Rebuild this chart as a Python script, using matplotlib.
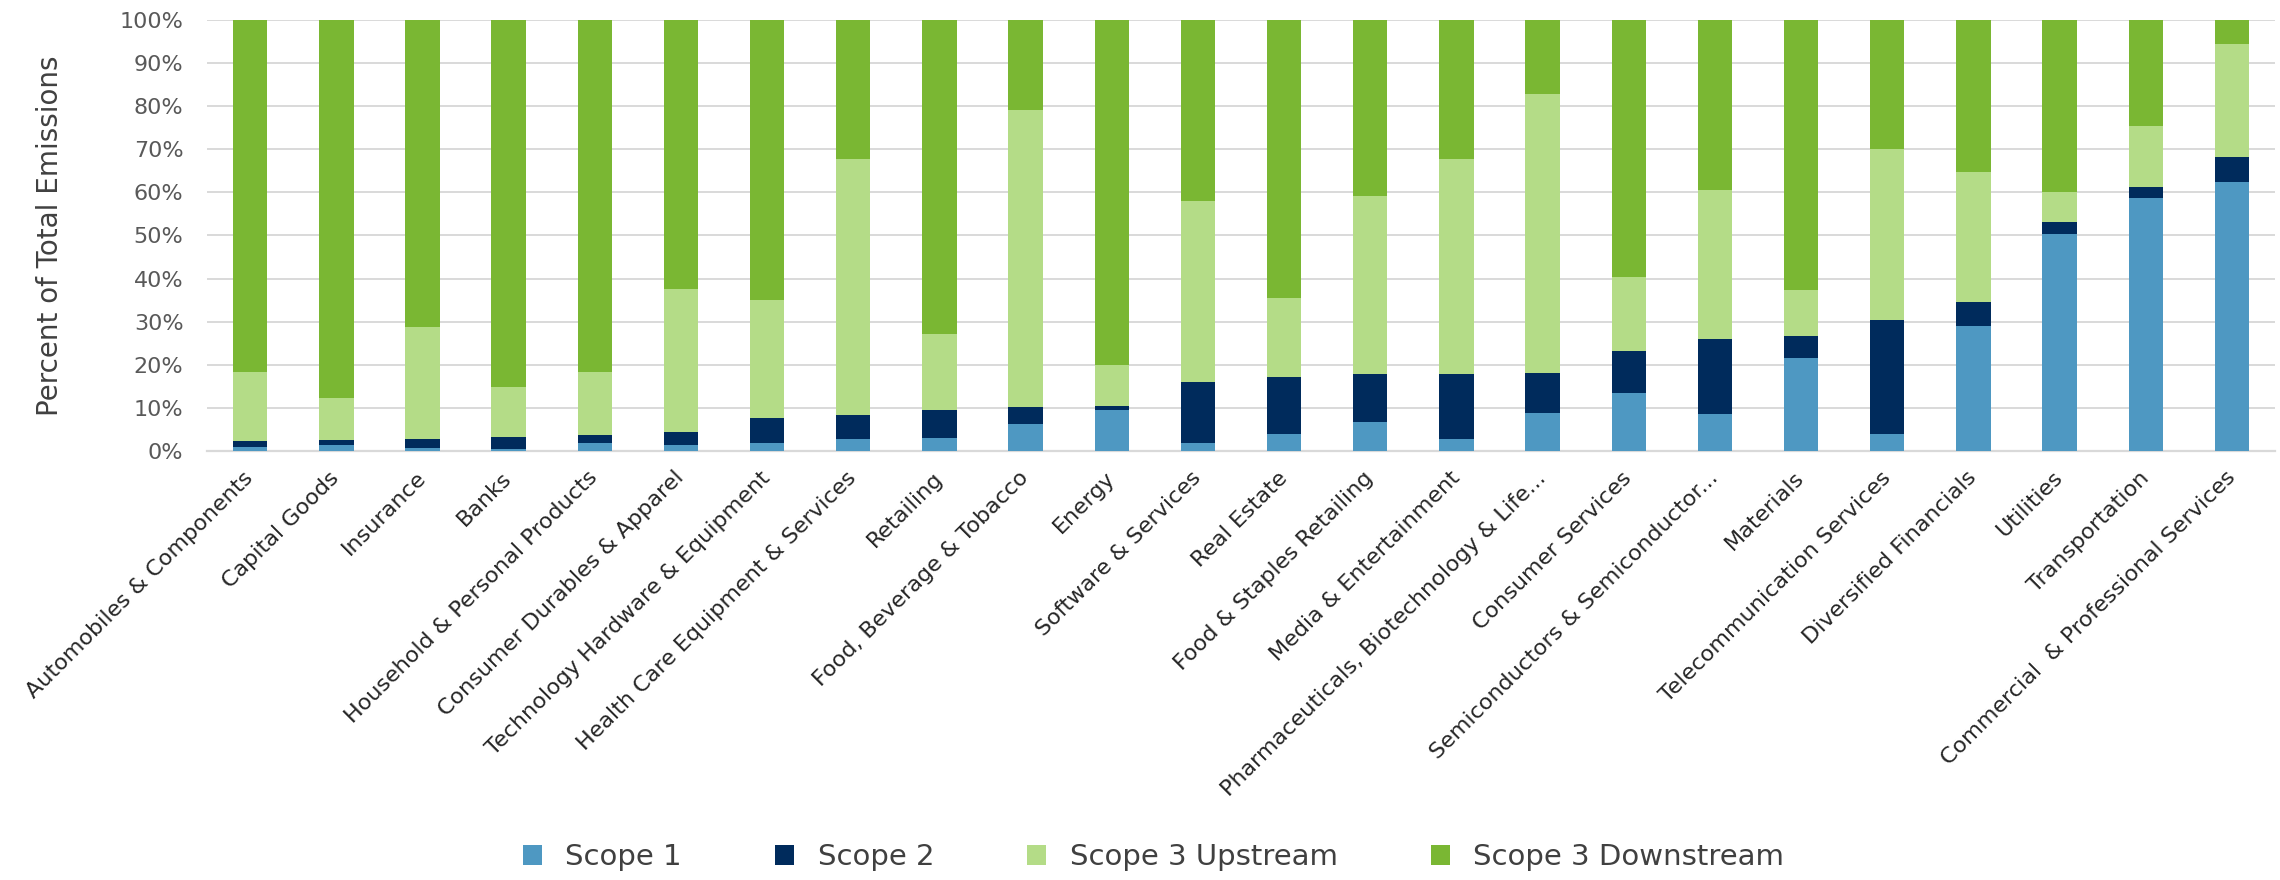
import matplotlib
matplotlib.use("Agg")
import matplotlib.pyplot as plt
from matplotlib.ticker import PercentFormatter
import numpy as np

industries = [
    "Automobiles & Components", "Capital Goods", "Insurance", "Banks",
    "Household & Personal Products", "Consumer Durables & Apparel",
    "Technology Hardware & Equipment", "Health Care Equipment & Services",
    "Retailing", "Food, Beverage & Tobacco", "Energy", "Software & Services",
    "Real Estate", "Food & Staples Retailing", "Media & Entertainment",
    "Pharmaceuticals, Biotechnology & Life...", "Consumer Services",
    "Semiconductors & Semiconductor...", "Materials",
    "Telecommunication Services", "Diversified Financials", "Utilities",
    "Transportation", "Commercial  & Professional Services",
]

# share of total emissions per scope (%)
scope1 = [1.0, 1.4, 0.6, 0.4, 1.8, 1.5, 1.9, 2.7, 3.1, 6.2, 9.5, 1.9,
          3.9, 6.7, 2.7, 8.9, 13.4, 8.7, 21.5, 3.9, 29.0, 50.3, 58.6, 62.3]
scope2 = [1.3, 1.2, 2.3, 2.8, 1.9, 2.8, 5.7, 5.7, 6.3, 3.9, 0.9, 14.0,
          13.3, 11.1, 15.1, 9.3, 9.9, 17.4, 5.2, 26.5, 5.6, 2.9, 2.7, 5.8]
scope3_up = [16.0, 9.6, 25.9, 11.6, 14.6, 33.4, 27.4, 59.3, 17.7, 69.0, 9.6, 42.2,
             18.4, 41.4, 49.9, 64.6, 17.1, 34.5, 10.7, 39.7, 30.1, 6.8, 14.1, 26.3]
scope3_down = [81.7, 87.8, 71.2, 85.2, 81.7, 62.3, 65.0, 32.3, 72.9, 20.9, 80.0, 41.9,
               64.4, 40.8, 32.3, 17.2, 59.6, 39.4, 62.6, 29.9, 35.3, 40.0, 24.6, 5.6]

series = [
    ("Scope 1", scope1, "#4E98C2"),
    ("Scope 2", scope2, "#002B5C"),
    ("Scope 3 Upstream", scope3_up, "#B4DC87"),
    ("Scope 3 Downstream", scope3_down, "#7AB733"),
]

plt.rcParams["font.family"] = ["DejaVu Sans"]

fig = plt.figure(figsize=(22.8, 8.8), dpi=100)
ax = fig.add_axes([0.0908, 0.4875, 0.907, 0.4898])

x = np.arange(len(industries))
bottom = np.zeros(len(industries))
for name, vals, color in series:
    vals = np.array(vals)
    ax.bar(x, vals, width=0.4, bottom=bottom, color=color, label=name, zorder=3)
    bottom += vals

ax.set_xlim(-0.5, len(industries) - 0.5)
ax.set_ylim(0, 100)
ax.set_yticks(np.arange(0, 101, 10))
ax.yaxis.set_major_formatter(PercentFormatter(decimals=0))
ax.grid(axis="y", color="#D9D9D9", linewidth=1.4, zorder=0)

for side in ["top", "right", "left"]:
    ax.spines[side].set_visible(False)
ax.spines["bottom"].set_color("#D9D9D9")
ax.spines["bottom"].set_linewidth(1.6)

ax.tick_params(axis="y", length=0, pad=17, labelsize=16, labelcolor="#595959")
ax.tick_params(axis="x", length=0, pad=17, labelsize=16, labelcolor="#262626")
ax.set_xticks(x)
ax.set_xticklabels(industries, rotation=45, ha="right", va="center",
                   rotation_mode="anchor")

ax.set_ylabel("Percent of Total Emissions", fontsize=20, color="#404040",
              labelpad=40)

fig.legend(loc="lower center", bbox_to_anchor=(0.506, -0.02), ncol=4,
           frameon=False, fontsize=21, handlelength=0.65, handleheight=0.65,
           handletextpad=0.8, columnspacing=3.2, labelcolor="#404040")

fig.savefig("out.png", dpi=100, facecolor="white")
